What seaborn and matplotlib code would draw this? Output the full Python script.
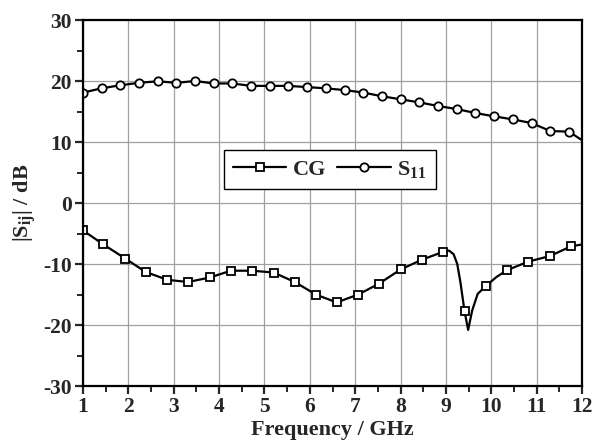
import numpy as np
import pandas as pd
import matplotlib
matplotlib.use("Agg")
import matplotlib.pyplot as plt
from matplotlib.lines import Line2D
from matplotlib.ticker import MultipleLocator
import seaborn as sns

# ---- data ----
s11_freq = [1.00, 1.41, 1.82, 2.23, 2.65, 3.06, 3.47, 3.88, 4.29, 4.70, 5.12, 5.53,
            5.94, 6.35, 6.78, 7.18, 7.59, 8.00, 8.41, 8.83, 9.24, 9.65, 10.07, 10.48,
            10.89, 11.30, 11.71, 12.00]
s11_db = [18.1, 18.8, 19.3, 19.7, 19.95, 19.7, 20.0, 19.6, 19.6, 19.2, 19.2, 19.2,
          19.0, 18.8, 18.5, 18.1, 17.5, 17.0, 16.5, 15.9, 15.4, 14.75, 14.2, 13.7,
          13.1, 11.8, 11.7, 10.3]
s11_marker_idx = list(range(27))

cg_freq = [1.00, 1.45, 1.93, 2.38, 2.86, 3.32, 3.80, 4.26, 4.73, 5.20, 5.67, 6.13,
           6.59, 7.07, 7.53, 8.00, 8.47, 8.94, 9.07, 9.17, 9.25, 9.32, 9.41, 9.49,
           9.58, 9.70, 9.88, 10.12, 10.35, 10.82, 11.29, 11.76, 12.00]
cg_db = [-4.5, -6.8, -9.1, -11.3, -12.6, -12.95, -12.2, -11.1, -11.1, -11.4, -12.95, -15.0,
         -16.3, -15.0, -13.2, -10.9, -9.3, -8.0, -7.8, -8.4, -10.0, -13.0, -17.7, -20.8,
         -17.6, -14.9, -13.6, -12.1, -11.0, -9.6, -8.7, -7.1, -6.8]
cg_marker_idx = [0, 1, 2, 3, 4, 5, 6, 7, 8, 9, 10, 11, 12, 13, 14, 15, 16, 17, 22, 26,
                 28, 29, 30, 31]

x_ticks = list(range(1, 13))
y_ticks = [-30, -20, -10, 0, 10, 20, 30]

# ---- style ----
sns.set_style("white")
plt.rcParams["font.family"] = ["Liberation Serif", "DejaVu Serif"]
plt.rcParams["font.weight"] = "bold"
plt.rcParams["axes.unicode_minus"] = False
plt.rcParams["mathtext.fontset"] = "custom"
plt.rcParams["mathtext.rm"] = "Liberation Serif:bold"
plt.rcParams["mathtext.it"] = "Liberation Serif:bold"
plt.rcParams["mathtext.bf"] = "Liberation Serif:bold"
plt.rcParams["mathtext.default"] = "rm"

fig = plt.figure(figsize=(5.94, 4.48), dpi=100)
ax = fig.add_axes([83 / 594, 1 - 386 / 448, (582 - 83) / 594, (386 - 20) / 448])

cg_df = pd.DataFrame({"freq": cg_freq, "db": cg_db})
s11_df = pd.DataFrame({"freq": s11_freq, "db": s11_db})

line_kw = dict(color="black", linewidth=1.6, markersize=6, markerfacecolor="white",
               markeredgecolor="black", markeredgewidth=1.3, errorbar=None, sort=False)
sns.lineplot(data=cg_df, x="freq", y="db", ax=ax, marker="s", markevery=cg_marker_idx,
             **{**line_kw, "markersize": 5.5})
sns.lineplot(data=s11_df, x="freq", y="db", ax=ax, marker="o", markevery=s11_marker_idx,
             **line_kw)

ax.set_xlim(1, 12)
ax.set_ylim(-30, 30)
ax.set_xticks(x_ticks)
ax.set_yticks(y_ticks)
ax.xaxis.set_minor_locator(MultipleLocator(0.5))
ax.yaxis.set_minor_locator(MultipleLocator(5))
ax.grid(True, which="major", color="#a0a0a0", linewidth=0.9)
ax.set_axisbelow(True)
for sp in ax.spines.values():
    sp.set_visible(True)
    sp.set_color("black")
    sp.set_linewidth(1.6)
ax.tick_params(which="major", direction="out", length=6, width=1.6, labelsize=15.5,
               bottom=True, left=True, pad=2)
ax.tick_params(which="minor", direction="out", length=4, width=1.4, bottom=True, left=True)
for lab in ax.get_xticklabels() + ax.get_yticklabels():
    lab.set_fontweight("bold")

ax.set_xlabel("Frequency / GHz", fontsize=16, fontweight="bold", labelpad=2)
ax.set_ylabel(r"|S$_{ij}$| / dB", fontsize=16, fontweight="bold", labelpad=4)

handles = [
    Line2D([], [], color="black", linewidth=1.6, marker="s", markersize=5.5,
           markerfacecolor="white", markeredgecolor="black", markeredgewidth=1.3),
    Line2D([], [], color="black", linewidth=1.6, marker="o", markersize=6,
           markerfacecolor="white", markeredgecolor="black", markeredgewidth=1.3),
]
leg = ax.legend(handles, ["CG", r"S$_{11}$"], loc="lower left",
                bbox_to_anchor=(0.2826, 0.538), borderaxespad=0, ncol=2,
                prop={"family": "Liberation Serif", "weight": "bold", "size": 16},
                handlelength=2.4, handletextpad=0.3, columnspacing=0.5,
                frameon=True, fancybox=False, edgecolor="black", framealpha=1,
                borderpad=0.4)
leg.get_frame().set_linewidth(1.0)

fig.savefig("out.png", dpi=100)
